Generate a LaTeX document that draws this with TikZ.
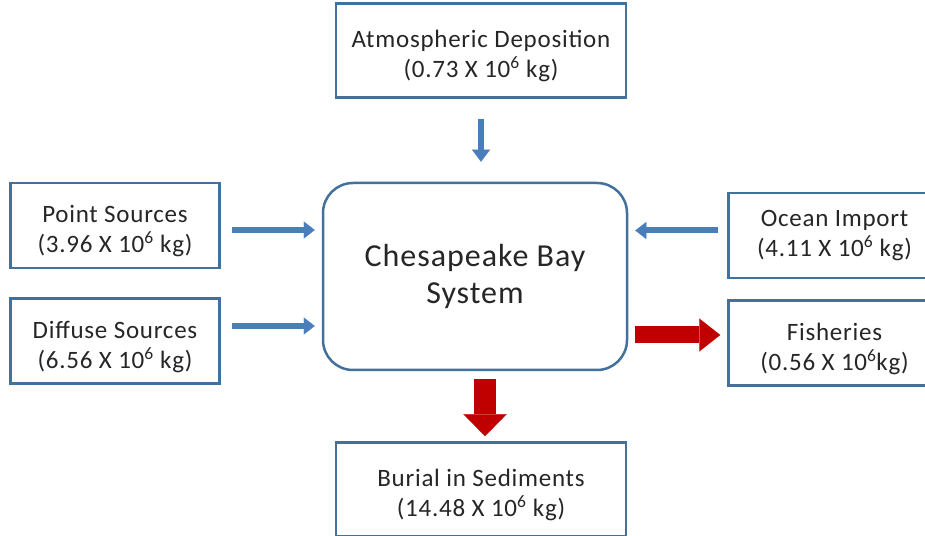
\documentclass[tikz,border=0pt]{standalone}
\usepackage{fontspec}
\setmainfont{Carlito}[LetterSpace=3]
\usetikzlibrary{positioning,arrows.meta}

\definecolor{boxblue}{HTML}{41719C}
\definecolor{arrowblue}{HTML}{4A7EBB}
\definecolor{outred}{HTML}{C00000}
\definecolor{inktext}{HTML}{262626}

% strut that pushes the first line a little down
\newcommand{\padtop}{\rule{0pt}{29pt}}

\tikzset{
	box/.style={draw=boxblue,line width=2.5pt,fill=white,text=inktext,align=center,font=\fontsize{25}{30}\selectfont,minimum width=290pt,minimum height=94pt},
	sidebox/.style={box,minimum width=209pt,minimum height=85pt},
	inflow/.style={draw=arrowblue,line width=6pt,-{Triangle[length=11pt,width=17pt,line width=0.1pt]}},
	outflow/.style={draw=outred,line width=17pt,-{Triangle[length=21pt,width=33pt,line width=0.1pt]}}
}

\begin{document}
\begin{tikzpicture}
	\useasboundingbox (0,0) rectangle (925pt,535pt);
	\node[box,rounded corners=30pt,minimum width=304pt,minimum height=187pt,font=\fontsize{32}{37}\selectfont](bay) at (475pt,258.5pt){Chesapeake Bay\\System};
	\node[box](atmos)[above = 83pt of bay, xshift=6pt]{\padtop Atmospheric Deposition\\(0.73 X 10\textsuperscript{6} kg)};
	\node[sidebox](point)[left = 101pt of bay.north west, anchor=north east]{\padtop Point Sources\\(3.96 X 10\textsuperscript{6} kg)};
	\node[sidebox](diffuse)[below = 28pt of point]{\padtop Diffuse Sources\\(6.56 X 10\textsuperscript{6} kg)};
	\node[sidebox,minimum width=212pt](ocean)[below right = 10pt and 99pt of bay.north east]{Ocean Import\\(4.11 X 10\textsuperscript{6} kg)};
	\node[sidebox,minimum width=212pt](fish)[below = 20pt of ocean]{\padtop Fisheries\\(0.56 X 10\textsuperscript{6}kg)};
	\node[box](burial)[below = 70pt of bay, xshift=6pt]{\padtop Burial in Sediments\\(14.48 X 10\textsuperscript{6} kg)};
	% flows into the bay
	\draw[inflow]([xshift=11pt,yshift=-4.5pt]point.east) -- ([xshift=-7pt,yshift=-4.5pt]bay.west |- point.east);
	\draw[inflow]([xshift=11pt,yshift=15pt]diffuse.east) -- ([xshift=-7pt,yshift=15pt]bay.west |- diffuse.east);
	\draw[inflow]([xshift=-9pt,yshift=5pt]ocean.west) -- ([xshift=7pt,yshift=5pt]bay.east |- ocean.west);
	\draw[inflow,-{Triangle[length=12pt,width=18pt,line width=0.1pt]}]([yshift=-20pt]atmos.south) -- ([yshift=20pt]atmos.south |- bay.north);
	% flows out of the bay
	\draw[outflow]([xshift=7pt,yshift=8pt]bay.east |- fish.west) -- ([xshift=-7pt,yshift=8pt]fish.west);
	\draw[outflow,line width=22pt,-{Triangle[length=22pt,width=43pt,line width=0.1pt]}]([xshift=10pt,yshift=-8pt]bay.south) -- ([xshift=10pt,yshift=5pt]bay.south |- burial.north);
\end{tikzpicture}
\end{document}
